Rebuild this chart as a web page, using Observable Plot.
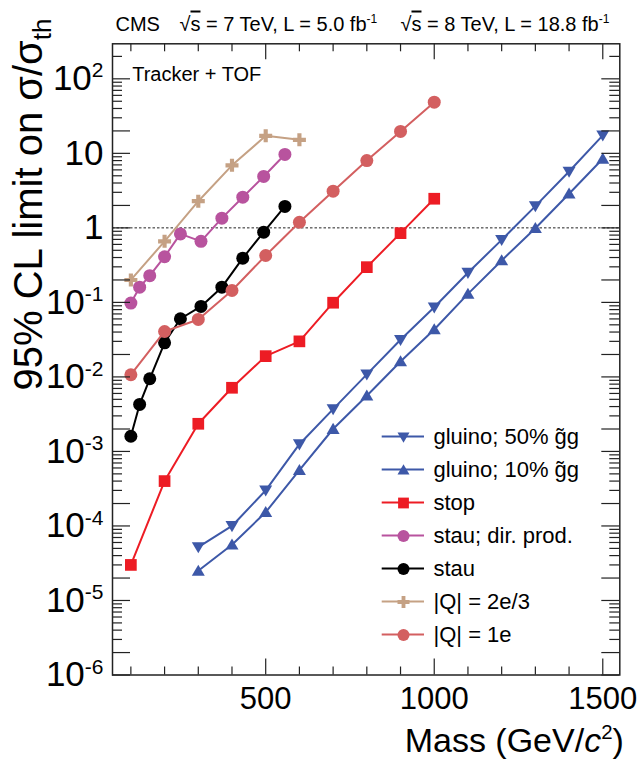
<!DOCTYPE html>
<html><head><meta charset="utf-8">
<script src="https://cdn.jsdelivr.net/npm/d3@7"></script>
<script src="https://cdn.jsdelivr.net/npm/@observablehq/plot@0.6"></script>
<style>
html,body{margin:0;padding:0;background:#fff;}
#chart svg{display:block;}
</style></head><body><div id="chart"></div>
<script>
// ---------------- data ----------------
const gluinoMass   = [300,400,500,600,700,800,900,1000,1100,1200,1300,1400,1500];
const gluino50Limit = [5.2e-5,1.0e-4,3.0e-4,1.25e-3,3.7e-3,1.08e-2,3.15e-2,8.6e-2,0.25,0.69,1.96,5.7,17.4];
const gluino10Limit = [2.5e-5,5.6e-5,1.53e-4,5.6e-4,2.0e-3,5.6e-3,1.61e-2,4.33e-2,0.13,0.365,0.99,2.87,8.45];
const stopMass  = [100,200,300,400,500,600,700,800,900,1000];
const stopLimit = [3.0e-5,4.0e-4,2.35e-3,7.15e-3,1.9e-2,3.0e-2,9.9e-2,0.297,0.85,2.46];
const stauMass  = [100,126,156,200,247,308,370,432,494,557];
const stauDirLimit = [0.098,0.16,0.228,0.41,0.83,0.66,1.35,2.58,4.9,9.66];
const stauLimit    = [0.0016,0.00427,0.00944,0.0287,0.0603,0.0882,0.160,0.392,0.876,1.94];
const q23Mass  = [100,200,300,400,500,600];
const q23Limit = [0.20,0.66,2.28,6.9,17.2,15.2];
const q1Mass   = [100,200,300,400,500,600,700,800,900,1000];
const q1Limit  = [0.0107,0.0407,0.059,0.1445,0.426,1.19,3.11,8.0,19.7,48.6];

const seriesNames = ["gluino; 50% g\u0303g","gluino; 10% g\u0303g","stop","stau; dir. prod.","stau","|Q| = 2e/3","|Q| = 1e"];
const seriesColors = ["#3d58a8","#3d58a8","#ed1c24","#b8539e","#000000","#c5a184","#d35f60"];
const yTickValues = [1e-6,1e-5,1e-4,1e-3,1e-2,1e-1,1,10,100];
const xTickValues = [500,1000,1500];
const headerTexts = ["CMS","\u221A~{s} = 7 TeV, L = 5.0 fb^{-1}","\u221A~{s} = 8 TeV, L = 18.8 fb^{-1}"];
const yTitle = "95% CL limit on \u03C3/\u03C3_{th}";
const xTitle = "Mass (GeV/*{c}^{2})";
const panelText = "Tracker + TOF";

// ---------------- symbols ----------------
const rad = s => Math.sqrt(s/Math.PI);
const symDown = {draw(c,s){const r=rad(s);c.moveTo(-r,-0.75*r);c.lineTo(r,-0.75*r);c.lineTo(0,0.95*r);c.closePath();}};
const symUp = {draw(c,s){const r=rad(s);c.moveTo(0,-0.95*r);c.lineTo(r,0.75*r);c.lineTo(-r,0.75*r);c.closePath();}};
const symSquare = {draw(c,s){const r=rad(s)*0.9;c.rect(-r,-r,2*r,2*r);}};
const symPlus = {draw(c,s){const r=rad(s),t=0.32*r;
  c.moveTo(-t,-r);c.lineTo(t,-r);c.lineTo(t,-t);c.lineTo(r,-t);c.lineTo(r,t);c.lineTo(t,t);
  c.lineTo(t,r);c.lineTo(-t,r);c.lineTo(-t,t);c.lineTo(-r,t);c.lineTo(-r,-t);c.lineTo(-t,-t);c.closePath();}};
const seriesSymbols = [symDown,symUp,symSquare,"circle","circle",symPlus,"circle"];

const seriesData = [
  [gluinoMass,gluino50Limit],[gluinoMass,gluino10Limit],[stopMass,stopLimit],
  [stauMass,stauDirLimit],[stauMass,stauLimit],[q23Mass,q23Limit],[q1Mass,q1Limit]
].map(([m,l]) => m.map((mass,i)=>({mass, limit:l[i]})));

// ---------------- layout ----------------
const W=638,H=760,mL=112,mR=18.7,mT=43.3,mB=85.5;
const pw=W-mL-mR, ph=H-mT-mB;
const yTop = Math.pow(10,2.47);

const yLong=[], yShort=[];
for (let k=-6;k<=2;k++) for (let m=1;m<=9;m++){const v=m*Math.pow(10,k); if(v>yTop) continue; ((m===1)||(m===2&&k<2)?yLong:yShort).push(v);}
const xLong = xTickValues, xShort = d3.range(100,1501,100).filter(v=>!xTickValues.includes(v));

const tickColor="#222";
const marks = [];
marks.push(Plot.ruleY([1],{stroke:"#222",strokeWidth:1,strokeDasharray:"2.5,2"}));
seriesData.forEach((rows,i)=>{
  marks.push(Plot.line(rows,{x:"mass",y:"limit",stroke:seriesColors[i],strokeWidth:2}));
  marks.push(Plot.dot(rows,{x:"mass",y:"limit",r:6.5,symbol:seriesSymbols[i],fill:seriesColors[i]}));
});
// inner ticks
marks.push(Plot.ruleY(yLong,{insetRight:pw-18,stroke:tickColor,strokeWidth:1.2}));
marks.push(Plot.ruleY(yShort,{insetRight:pw-10,stroke:tickColor,strokeWidth:1.2}));
marks.push(Plot.ruleY(yLong,{insetLeft:pw-18,stroke:tickColor,strokeWidth:1.2}));
marks.push(Plot.ruleY(yShort,{insetLeft:pw-10,stroke:tickColor,strokeWidth:1.2}));
marks.push(Plot.ruleX(xLong,{insetTop:ph-16,stroke:tickColor,strokeWidth:1.2}));
marks.push(Plot.ruleX(xShort,{insetTop:ph-8,stroke:tickColor,strokeWidth:1.2}));
marks.push(Plot.ruleX(xLong,{insetBottom:ph-16,stroke:tickColor,strokeWidth:1.2}));
marks.push(Plot.ruleX(xShort,{insetBottom:ph-8,stroke:tickColor,strokeWidth:1.2}));
marks.push(Plot.frame({stroke:"#222",strokeWidth:1.5}));
// axes labels
const fmtY = v => {const e=Math.round(Math.log10(v)); return e===0?"1":e===1?"10":`10^{${e}}`;};
marks.push(Plot.axisY({ticks:yTickValues,tickFormat:fmtY,tickSize:0,tickPadding:9,fontSize:35,label:null,anchor:"left"}));
marks.push(Plot.axisX({ticks:xTickValues,tickFormat:d=>String(d),tickSize:0,tickPadding:12,fontSize:31,label:null,anchor:"bottom"}));
// titles
marks.push(Plot.text([yTitle],{text:d=>d,frameAnchor:"top-left",dx:29-mL,dy:390-mT,rotate:-90,textAnchor:"start",lineAnchor:"middle",fontSize:40}));
marks.push(Plot.text([xTitle],{text:d=>d,frameAnchor:"bottom-right",dx:4,dy:751-0.32*34-(H-mB),textAnchor:"end",lineAnchor:"middle",fontSize:34}));
const hx=[115,179,400];
headerTexts.forEach((t,i)=>marks.push(Plot.text([t],{text:d=>d,frameAnchor:"top-left",dx:hx[i]-mL,dy:30-0.32*20-mT,textAnchor:"start",lineAnchor:"middle",fontSize:20})));
marks.push(Plot.text([panelText],{text:d=>d,frameAnchor:"top-left",dx:131.7-mL,dy:80-0.32*20-mT,textAnchor:"start",lineAnchor:"middle",fontSize:20}));
// legend
seriesNames.forEach((name,i)=>{
  const yc = 436.5 + 33*i;
  marks.push(Plot.rect([0],{insetLeft:381.7-mL,insetRight:(W-mR)-424,insetTop:yc-1-mT,insetBottom:(H-mB)-(yc+1),fill:seriesColors[i]}));
  marks.push(Plot.dot([0],{frameAnchor:"top-left",dx:403-mL,dy:yc-mT,r:6,symbol:seriesSymbols[i],fill:seriesColors[i]}));
  marks.push(Plot.text([name],{text:d=>d,frameAnchor:"top-left",dx:433-mL,dy:yc-mT,textAnchor:"start",lineAnchor:"middle",fontSize:22}));
});

const chart = Plot.plot({
  width:W,height:H,marginLeft:mL,marginRight:mR,marginTop:mT,marginBottom:mB,
  style:{fontFamily:"'Liberation Sans', Arial, Helvetica, sans-serif",color:"#000",background:"#fff",overflow:"visible"},
  x:{type:"linear",domain:[45.5,1550.5],axis:null,label:null},
  y:{type:"log",domain:[1e-6,yTop],axis:null,label:null},
  marks
});
document.getElementById("chart").appendChild(chart);

// rich text: ^{} superscript, _{} subscript, ~{} overline, *{} italic
const svg = d3.select(chart);
svg.selectAll("text").each(function(){
  const el=this; const txt=el.textContent;
  if(!/[\^_~\*]\{/.test(txt)) return;
  const fs=parseFloat(getComputedStyle(el).fontSize)||16;
  const parts=[]; const re=/([\^_~\*])\{([^}]*)\}/g; let last=0,m;
  while((m=re.exec(txt))){ if(m.index>last) parts.push(["",txt.slice(last,m.index)]); parts.push([m[1],m[2]]); last=re.lastIndex; }
  if(last<txt.length) parts.push(["",txt.slice(last)]);
  el.textContent=""; let cur=0;
  parts.forEach(([k,s])=>{
    const t=d3.select(el).append("tspan").text(s);
    let shift=0;
    if(k==="^"){shift=-0.36*fs;t.attr("font-size",(0.6*fs)+"px");}
    if(k==="_"){shift=0.22*fs;t.attr("font-size",(0.65*fs)+"px");}
    if(k==="~"){t.attr("text-decoration","overline");}
    if(k==="*"){t.attr("font-style","italic");}
    if(shift!==cur){t.attr("dy",(shift-cur)+"px");cur=shift;}
  });
});
</script></body></html>
